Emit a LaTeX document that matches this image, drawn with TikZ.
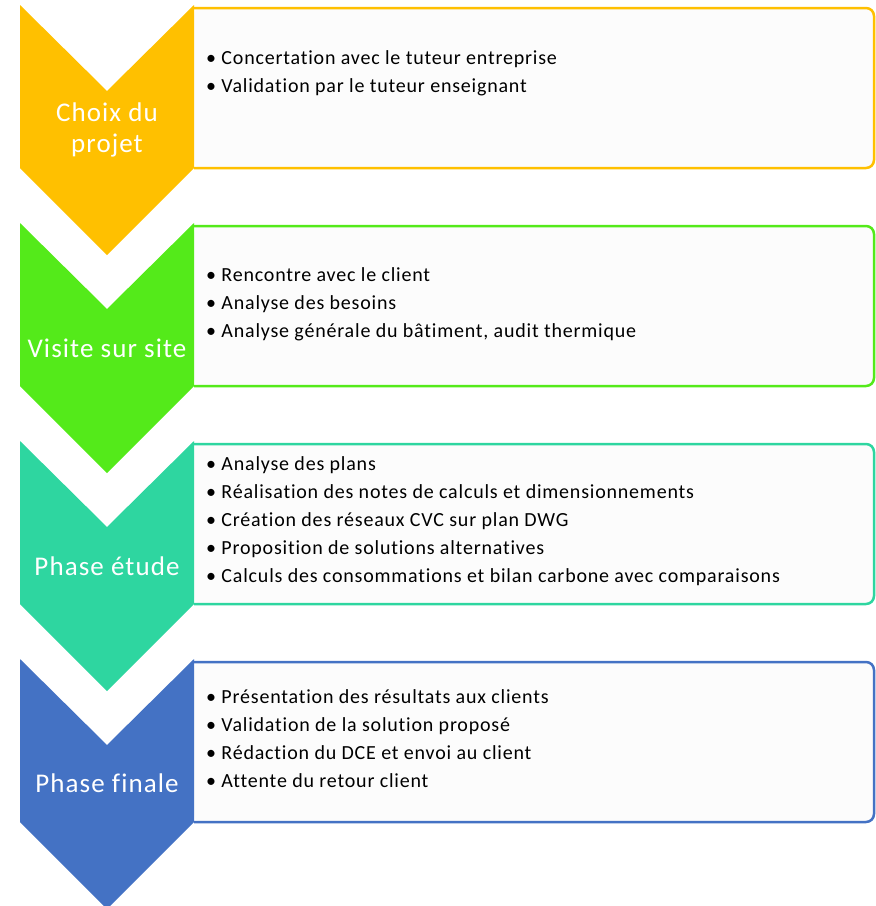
\documentclass[tikz,border=0pt]{standalone}
\usepackage{fontspec}
\setmainfont{Carlito}
\newfontfamily\phasefont{Carlito}[LetterSpace=4, Ligatures=NoCommon]
\newfontfamily\tasksfont{Carlito}[LetterSpace=4, Ligatures=NoCommon]
\definecolor{choixjaune}{RGB}{255,192,0}
\definecolor{visitevert}{RGB}{84,234,26}
\definecolor{etudeturquoise}{RGB}{46,214,160}
\definecolor{finalbleu}{RGB}{68,114,196}
\definecolor{fondgris}{RGB}{252,252,252}
\tikzset{
x=1pt, y=-1pt, % one unit per pixel, y pointing down
phase/.style={text=white, align=center, font=\phasefont\fontsize{27}{31}\selectfont}, % label on each chevron
tasks/.style={anchor=west, align=left, inner sep=0pt, font=\tasksfont\fontsize{20}{28}\selectfont}, % bullet list in each box
frame/.style={line width=2.5pt, rounded corners=8pt}, % outline of each box
}

\begin{document}
\begin{tikzpicture}
      \useasboundingbox (0,0) rectangle (876,906);

      % boxes
      \fill[fondgris, rounded corners=8pt] (194,8) rectangle (874,168);
      \draw[frame, choixjaune] (194,8) -- (874,8) -- (874,168) -- (194,168);
      \fill[fondgris, rounded corners=8pt] (194,226) rectangle (874,386);
      \draw[frame, visitevert] (194,226) -- (874,226) -- (874,386) -- (194,386);
      \fill[fondgris, rounded corners=8pt] (194,444) rectangle (874,604);
      \draw[frame, etudeturquoise] (194,444) -- (874,444) -- (874,604) -- (194,604);
      \fill[fondgris, rounded corners=8pt] (194,662) rectangle (874,822);
      \draw[frame, finalbleu] (194,662) -- (874,662) -- (874,822) -- (194,822);

      % chevrons
      \fill[choixjaune] (20,5) -- (107,91) -- (194,5) -- (194,168) -- (107,255) -- (20,168) -- cycle;
      \fill[visitevert] (20,223) -- (107,309) -- (194,223) -- (194,386) -- (107,473) -- (20,386) -- cycle;
      \fill[etudeturquoise] (20,441) -- (107,527) -- (194,441) -- (194,604) -- (107,691) -- (20,604) -- cycle;
      \fill[finalbleu] (20,659) -- (107,745) -- (194,659) -- (194,822) -- (107,909) -- (20,822) -- cycle;

      \node[phase] (choix) at (107,130) {Choix du\\projet};
      \node[phase] (visite) at (107,348) {Visite sur site};
      \node[phase] (etude) at (107,566) {Phase étude};
      \node[phase] (finale) at (107,783) {Phase finale};

      \node[tasks] (tachesChoix) at (206,73) {•\ Concertation avec le tuteur entreprise\\
      •\ Validation par le tuteur enseignant};
      \node[tasks] (tachesVisite) at (206,304) {•\ Rencontre avec le client\\
      •\ Analyse des besoins\\
      •\ Analyse générale du bâtiment, audit thermique};
      \node[tasks] (tachesEtude) at (206,521) {•\ Analyse des plans\\
      •\ Réalisation des notes de calculs et dimensionnements\\
      •\ Création des réseaux CVC sur plan DWG\\
      •\ Proposition de solutions alternatives\\
      •\ Calculs des consommations et bilan carbone avec comparaisons};
      \node[tasks] (tachesFinale) at (206,739) {•\ Présentation des résultats aux clients\\
      •\ Validation de la solution proposé\\
      •\ Rédaction du DCE et envoi au client\\
      •\ Attente du retour client};
    \end{tikzpicture}
\end{document}
